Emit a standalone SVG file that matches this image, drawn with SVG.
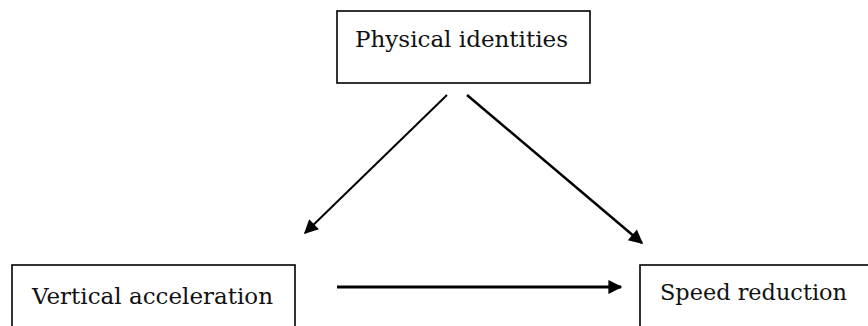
<svg xmlns="http://www.w3.org/2000/svg" width="868" height="326" viewBox="0 0 868 326">
<defs>
<marker id="ah" viewBox="0 0 10 10" refX="9" refY="5" markerWidth="16" markerHeight="14" markerUnits="userSpaceOnUse" orient="auto">
<path d="M0,0 L10,5 L0,10 z" fill="#000"/>
</marker>
</defs>
<style>
.box{fill:#fff;stroke:#000;stroke-width:1.6}
.lbl{font-family:'DejaVu Serif','Liberation Serif',serif;font-size:23px;fill:#111}
.conn{stroke:#000;fill:none;marker-end:url(#ah)}
</style>
<rect width="868" height="326" fill="#fff"/>
<g id="physical-identities">
<rect class="box" x="337" y="11" width="253" height="72"/>
<text class="lbl" x="355" y="47" textLength="213" lengthAdjust="spacingAndGlyphs">Physical identities</text>
</g>
<g id="vertical-acceleration">
<rect class="box" x="12" y="265" width="283" height="70"/>
<text class="lbl" x="32" y="304" textLength="241" lengthAdjust="spacingAndGlyphs">Vertical acceleration</text>
</g>
<g id="speed-reduction">
<rect class="box" x="640" y="265" width="240" height="70"/>
<text class="lbl" x="660" y="300" textLength="187" lengthAdjust="spacingAndGlyphs">Speed reduction</text>
</g>
<g id="connectors">
<line class="conn" x1="447" y1="95" x2="305" y2="233" stroke-width="2"/>
<line class="conn" x1="467" y1="95" x2="642" y2="243" stroke-width="2.5"/>
<line class="conn" x1="337" y1="287" x2="621" y2="287" stroke-width="3"/>
</g>
</svg>
